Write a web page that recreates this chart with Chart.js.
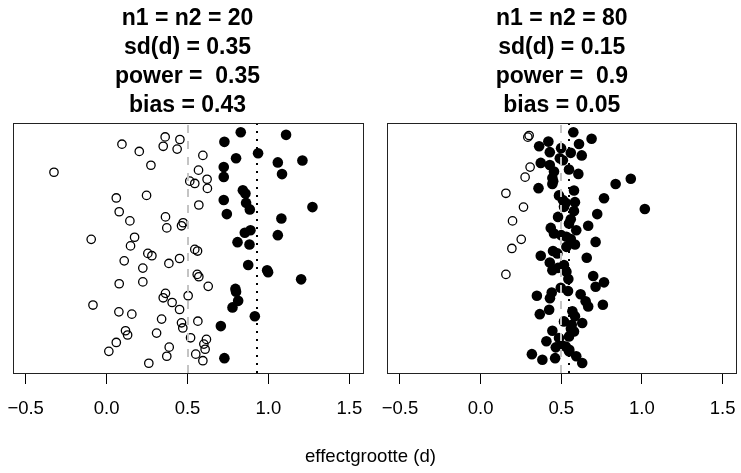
<!DOCTYPE html>
<html>
<head>
<meta charset="utf-8">
<script src="https://cdn.jsdelivr.net/npm/chart.js@4.4.0/dist/chart.umd.min.js"></script>
<style>
  html, body { margin: 0; padding: 0; background: #fff; }
  #wrap { position: relative; width: 741px; height: 473px; }
  #left { position: absolute; left: 0; top: 0; }
  #right { position: absolute; left: 374px; top: 0; }
  #xlab { position: absolute; left: 0; width: 741px; top: 445px; line-height: 20px; text-align: center;
          font: 18.6px "Liberation Sans", Arial, sans-serif; color: #000; }
</style>
</head>
<body>
<div id="wrap">
  <canvas id="left" width="374" height="473" style="width:374px;height:473px"></canvas>
  <canvas id="right" width="367" height="473" style="width:367px;height:473px"></canvas>
  <div id="xlab">effectgrootte (d)</div>
</div>
<script>
// x axis ticks
var tickValues = [-0.5, 0, 0.5, 1, 1.5];
var tickLabels = ['\u22120.5', '0.0', '0.5', '1.0', '1.5'];
var trueEffect = 0.5;

// left panel: n1 = n2 = 20
var leftTitle = ['n1 = n2 = 20', 'sd(d) = 0.35', 'power =  0.35', 'bias = 0.43'];
var leftBias = 0.43;
// not significant (open circles): effect size and study row
var leftOpenD = [0.362, 0.453, 0.095, 0.350, 0.436, 0.202, 0.595, 0.274, -0.325, 0.568,
                 0.514, 0.545, 0.621, 0.623, 0.060, 0.247, 0.570, 0.078, 0.144, 0.364,
                 0.372, 0.473, 0.463, -0.095, 0.173, 0.148, 0.255, 0.545, 0.562, 0.280,
                 0.109, 0.451, 0.385, 0.224, 0.560, 0.570, 0.078, 0.224, 0.628, 0.364,
                 0.350, 0.504, 0.405, 0.451, -0.084, 0.076, 0.156, 0.340, 0.463, 0.471,
                 0.564, 0.117, 0.130, 0.309, 0.519, 0.617, 0.601, 0.609, 0.060, 0.014,
                 0.387, 0.372, 0.551, 0.595, 0.261];
var leftOpenRow = [98.0, 96.9, 94.9, 94.0, 92.8, 91.8, 90.1, 85.9, 82.9, 83.8,
                   79.1, 78.1, 79.9, 76.0, 71.9, 73.0, 68.9, 66.0, 62.1, 63.8,
                   59.1, 61.3, 60.0, 54.2, 55.1, 51.4, 48.2, 49.9, 49.2, 47.2,
                   45.0, 46.0, 43.9, 41.9, 39.2, 38.2, 35.2, 36.0, 34.1, 31.1,
                   29.2, 30.1, 27.2, 24.2, 26.1, 23.2, 22.2, 20.1, 18.5, 16.3,
                   19.2, 15.1, 13.3, 14.1, 12.1, 11.4, 9.4, 7.2, 10.1, 6.3,
                   8.1, 4.2, 5.1, 2.3, 1.2];
// significant (filled)
var leftSigD = [0.829, 1.109, 0.728, 0.936, 0.800, 1.058, 1.210, 0.724, 0.724, 1.084,
                0.842, 0.858, 0.724, 0.862, 0.885, 1.272, 0.743, 1.080, 0.854, 0.889,
                1.058, 0.809, 0.883, 0.875, 0.992, 0.998, 1.202, 0.796, 0.800, 0.813,
                0.778, 0.916, 0.706, 0.728];
var leftSigRow = [100.0, 98.9, 95.9, 91.0, 88.9, 87.1, 87.9, 85.1, 80.9, 82.1,
                  75.2, 73.8, 71.0, 69.8, 67.0, 68.0, 65.0, 63.1, 57.0, 58.1,
                  56.0, 53.0, 52.0, 43.2, 41.0, 40.1, 37.1, 33.0, 31.8, 27.9,
                  25.1, 21.3, 17.1, 3.4];

// right panel: n1 = n2 = 80
var rightTitle = ['n1 = n2 = 80', 'sd(d) = 0.15', 'power =  0.9', 'bias = 0.05'];
var rightBias = 0.05;
var rightOpenD = [0.301, 0.293, 0.307, 0.276, 0.157, 0.266, 0.198, 0.252, 0.194, 0.157];
var rightOpenRow = [98.6, 97.9, 85.1, 80.8, 73.9, 68.0, 62.1, 54.2, 50.3, 39.2];
var rightSigD = [0.575, 0.688, 0.420, 0.363, 0.610, 0.499, 0.429, 0.559, 0.627, 0.491,
                 0.373, 0.429, 0.548, 0.455, 0.606, 0.445, 0.445, 0.359, 0.837, 0.931,
                 0.579, 0.486, 0.765, 0.528, 0.585, 1.018, 0.517, 0.579, 0.723, 0.480,
                 0.559, 0.548, 0.435, 0.455, 0.593, 0.667, 0.532, 0.559, 0.713, 0.585,
                 0.532, 0.449, 0.373, 0.476, 0.658, 0.429, 0.517, 0.445, 0.532, 0.544,
                 0.698, 0.765, 0.713, 0.497, 0.542, 0.441, 0.620, 0.349, 0.651, 0.667,
                 0.758, 0.367, 0.425, 0.569, 0.585, 0.517, 0.630, 0.565, 0.445, 0.579,
                 0.408, 0.486, 0.548, 0.466, 0.528, 0.318, 0.383, 0.462, 0.593, 0.630,
                 0.548, 0.51, 0.45, 0.51, 0.50, 0.48, 0.43, 0.56, 0.50, 0.55];
var rightSigRow = [100.0, 97.2, 96.0, 94.0, 95.0, 93.2, 91.5, 91.2, 90.1, 88.9,
                   86.9, 86.0, 84.1, 83.2, 82.2, 80.4, 77.9, 76.1, 77.9, 80.1,
                   75.1, 73.0, 71.8, 69.8, 70.1, 67.2, 68.1, 66.3, 65.0, 63.8,
                   62.8, 61.0, 59.1, 56.7, 58.1, 60.0, 55.3, 54.3, 53.1, 52.0,
                   51.0, 49.2, 47.2, 48.2, 46.3, 44.3, 43.2, 41.0, 40.3, 37.2,
                   38.5, 35.8, 33.9, 33.5, 32.1, 31.5, 30.7, 30.1, 27.7, 25.5,
                   26.2, 22.2, 24.1, 23.4, 21.3, 19.1, 18.4, 17.7, 15.1, 14.8,
                   10.6, 12.0, 12.7, 8.0, 8.4, 5.1, 2.7, 3.4, 4.2, 1.3,
                   6.3, 88.0, 79.0, 71.0, 56.0, 42.0, 29.0, 16.0, 9.0, 7.0];

var FONT = '"Liberation Sans", Arial, Helvetica, sans-serif';

function pts(xs, ys){
    return xs.map(function(v, i){ return {x: v, y: ys[i]}; });
}

// box around the plot region + the two reference lines
var panelLines = {
    id: 'panelLines',
    afterDatasetsDraw: function(chart, args, opts){
        var ctx = chart.ctx, a = chart.chartArea, x = chart.scales.x;
        ctx.save();
        ctx.lineWidth = 2;
        ctx.strokeStyle = '#c4c4c4';
        ctx.setLineDash([8, 8]);
        var px = Math.round(x.getPixelForValue(opts.trueD));
        ctx.beginPath(); ctx.moveTo(px, a.bottom); ctx.lineTo(px, a.top); ctx.stroke();
        ctx.strokeStyle = '#000';
        ctx.setLineDash([2, 6]);
        px = Math.round(x.getPixelForValue(opts.meanSig));
        ctx.beginPath(); ctx.moveTo(px, a.bottom); ctx.lineTo(px, a.top); ctx.stroke();
        ctx.setLineDash([]);
        ctx.lineWidth = 1;
        ctx.strokeStyle = '#222';
        ctx.strokeRect(Math.round(a.left) + 0.5, Math.round(a.top) + 0.5,
                       Math.round(a.right - a.left), Math.round(a.bottom - a.top));
        ctx.restore();
    }
};

function makePanel(id, title, openD, openRow, sigD, sigRow, bias, padL, padR){
    return new Chart(document.getElementById(id), {
        type: 'scatter',
        data: {
            datasets: [{
                data: pts(openD, openRow),
                pointRadius: 4.2,
                pointBorderWidth: 1.3,
                pointBorderColor: '#000',
                pointBackgroundColor: 'rgba(0,0,0,0)'
            }, {
                data: pts(sigD, sigRow),
                pointRadius: 5.3,
                pointBorderWidth: 0,
                pointBackgroundColor: '#000'
            }]
        },
        options: {
            responsive: false,
            animation: false,
            events: [],
            layout: {padding: {left: padL, right: padR, top: 0, bottom: 0}},
            scales: {
                x: {
                    type: 'linear',
                    min: -0.58,
                    max: 1.58,
                    afterBuildTicks: function(axis){
                        axis.ticks = tickValues.map(function(v){ return {value: v}; });
                    },
                    afterFit: function(axis){
                        axis.height = 100;
                        axis.paddingLeft = 0;
                        axis.paddingRight = 0;
                    },
                    grid: {
                        drawOnChartArea: false,
                        drawTicks: true,
                        tickLength: 11,
                        tickColor: '#000',
                        tickWidth: 1
                    },
                    border: {display: false},
                    ticks: {
                        autoSkip: false,
                        maxRotation: 0,
                        padding: 14,
                        color: '#000',
                        font: {family: FONT, size: 18.5},
                        callback: function(v, i){ return tickLabels[i]; }
                    }
                },
                y: {
                    type: 'linear',
                    display: false,
                    min: -2.96,
                    max: 103.96
                }
            },
            plugins: {
                legend: {display: false},
                tooltip: {enabled: false},
                title: {
                    display: true,
                    text: title,
                    color: '#000',
                    font: {family: FONT, size: 23, weight: 'bold', lineHeight: '29px'},
                    padding: {top: 4, bottom: 3}
                },
                panelLines: {trueD: trueEffect, meanSig: trueEffect + bias}
            }
        },
        plugins: [panelLines]
    });
}

makePanel('left', leftTitle, leftOpenD, leftOpenRow, leftSigD, leftSigRow, leftBias, 12.7, 11.7);
makePanel('right', rightTitle, rightOpenD, rightOpenRow, rightSigD, rightSigRow, rightBias, 13, 4.4);
</script>
</body>
</html>
